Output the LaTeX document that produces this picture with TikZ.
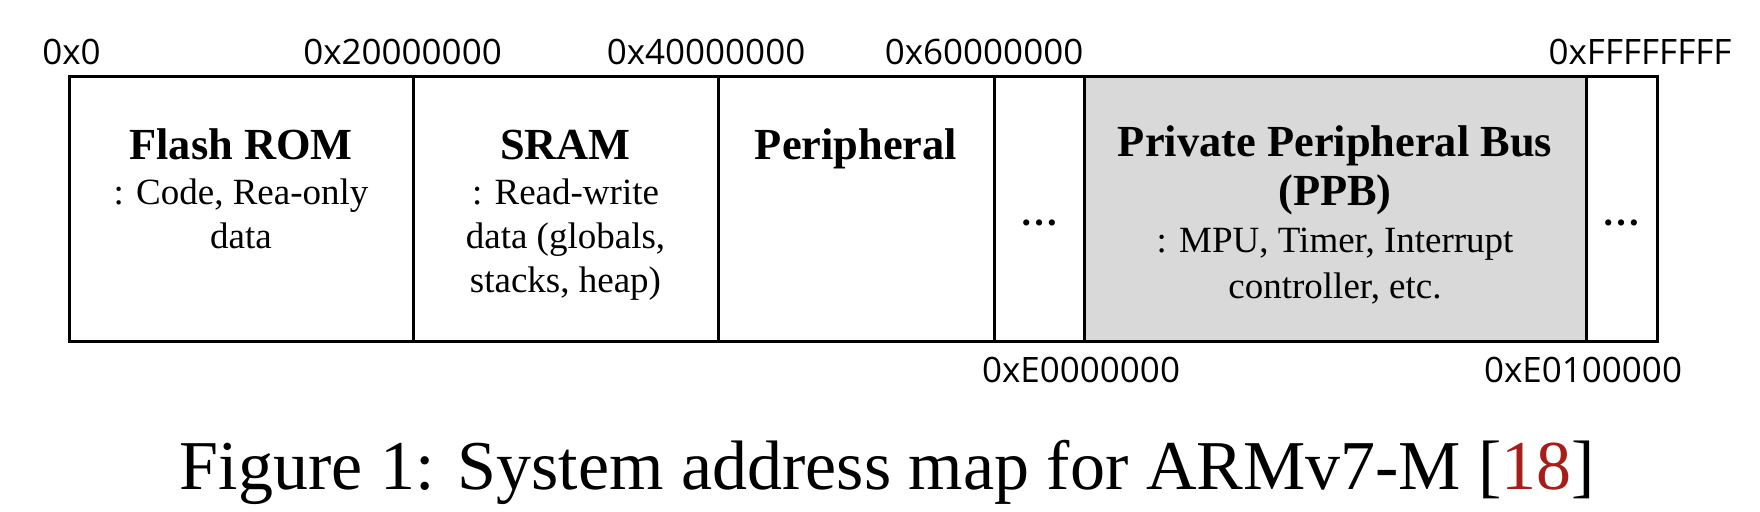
\documentclass[tikz,border=0pt]{standalone}
\usepackage{fontspec}
\setmainfont{Liberation Serif}
\newfontfamily\hexfont{Open Sans}
\definecolor{ppbgray}{RGB}{217,217,217}
\definecolor{citered}{RGB}{165,30,26}
\begin{document}
\begin{tikzpicture}[x=0.5pt,y=-0.5pt,
  region/.style={draw=black,line width=1.5pt,minimum height=132.5pt,inner sep=0pt,anchor=center},
  addr/.style={font=\hexfont\fontsize{17.5}{21}\selectfont,anchor=base,inner sep=0pt},
  title/.style={font=\bfseries\fontsize{22.2}{26}\selectfont,anchor=base,inner sep=0pt},
  body/.style={font=\fontsize{18.5}{22}\selectfont,anchor=base,inner sep=0pt},
  dots/.style={font=\bfseries\fontsize{19}{22}\selectfont,anchor=base,inner sep=0pt},
  caption/.style={font=\fontsize{35}{42}\selectfont,anchor=base,inner sep=0pt}]
\useasboundingbox (0,0) rectangle (1760,512);
% regions
\node[region,minimum width=172pt] (flash) at (241,209.5) {};
\node[region,minimum width=152.5pt] (sram) at (565.5,209.5) {};
\node[region,minimum width=138pt] (periph) at (856,209.5) {};
\node[region,minimum width=45pt] (gap1) at (1039,209.5) {};
\node[region,minimum width=251pt,fill=ppbgray] (ppb) at (1335,209.5) {};
\node[region,minimum width=35.5pt] (gap2) at (1621.5,209.5) {};
% region texts
\node[title] (flasht) at (241,160) {Flash ROM};
\node[body] (flashb1) at (241,205) {: Code, Rea-only};
\node[body] (flashb2) at (241,249) {data};
\node[title] (sramt) at (565.5,160) {SRAM};
\node[body] (sramb1) at (565.5,205) {: Read-write};
\node[body] (sramb2) at (565.5,249) {data (globals,};
\node[body] (sramb3) at (565.5,293) {stacks, heap)};
\node[title] (peripht) at (856,160) {Peripheral};
\node[dots] (gap1t) at (1039,226) {\char"2026};
\node[title] (ppbt1) at (1335,157) {Private Peripheral Bus};
\node[title] (ppbt2) at (1335,206) {(PPB)};
\node[body] (ppbb1) at (1335,253) {: MPU, Timer, Interrupt};
\node[body] (ppbb2) at (1335,299) {controller, etc.};
\node[dots] (gap2t) at (1621.5,226) {\char"2026};
% addresses
\node[addr] (a0) at (71.5,64.5) {0x0};
\node[addr] (a2) at (402.5,64.5) {0x20000000};
\node[addr] (a4) at (706,64.5) {0x40000000};
\node[addr] (a6) at (984,64.5) {0x60000000};
\node[addr] (af) at (1640,64.5) {0xFFFFFFFF};
\node[addr] (ae0) at (1081,383) {0xE0000000};
\node[addr] (ae1) at (1583,383) {0xE0100000};
% caption
\node[caption] (cap) at (887.5,489) {Figure 1: System address map for ARMv7-M [\textcolor{citered}{18}]};
\end{tikzpicture}
\end{document}
